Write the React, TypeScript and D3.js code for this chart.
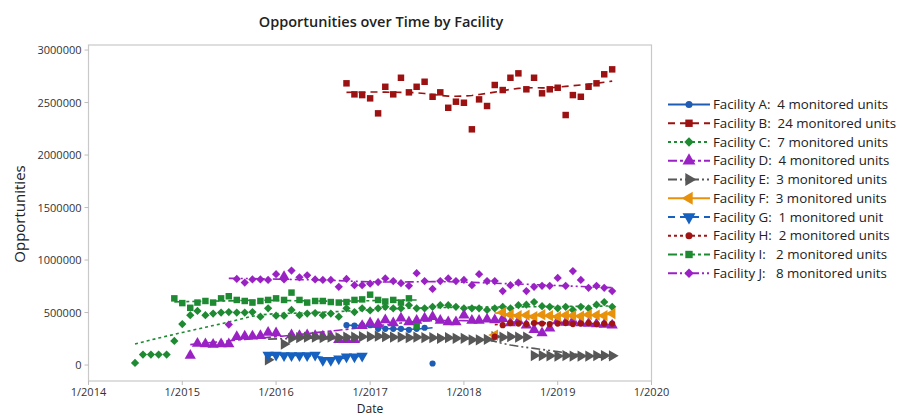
import React, { useEffect, useRef } from "react";
import * as d3 from "d3";

// monthly values, each series starts at its own first month
const startA = "2016-10-01";
const valuesA = [380000, 375000, 380000, 380000, 345000, 345000, 345000, 345000, 335000, 345000, 355000, 15000];

const startB = "2016-10-01";
const valuesB = [
  2683000, 2578000, 2571000, 2540000, 2397000, 2650000, 2578000, 2736000, 2597000, 2650000, 2698000, 2555000,
  2597000, 2450000, 2508000, 2498000, 2245000, 2530000, 2467000, 2667000, 2619000, 2736000, 2778000, 2626000,
  2736000, 2588000, 2626000, 2641000, 2381000, 2571000, 2555000, 2650000, 2683000, 2769000, 2816000,
];

const startC = "2014-07-01";
const valuesC = [
  20000, 100000, 100000, 100000, 100000, 230000, 390000, 475000, 515000, 475000, 490000, 500000,
  505000, 500000, 500000, 505000, 460000, 540000, 470000, 470000, 525000, 475000, 490000, 495000,
  475000, 490000, 460000, 540000, 505000, 540000, 520000, 540000, 555000, 540000, 540000, 570000,
  540000, 540000, 555000, 570000, 570000, 555000, 540000, 540000, 540000, 525000, 540000, 555000,
  540000, 570000, 575000, 600000, 560000, 555000, 540000, 555000, 525000, 555000, 540000, 575000,
  600000, 555000,
];

const startD = "2015-02-01";
const valuesD = [
  90000, 205000, 200000, 195000, 200000, 200000, 270000, 275000, 275000, 280000, 310000, 305000,
  840000, 285000, 280000, 285000, 280000, 275000, 275000, 240000, 240000, 240000, 375000, 400000,
  390000, 430000, 400000, 445000, 410000, 425000, 445000, 460000, 425000, 410000, 410000, 475000,
  425000, 425000, 435000, 430000, 440000, 400000, 420000, 380000, 335000, 305000, 350000, 420000,
  405000, 420000, 400000, 395000, 390000, 385000, 380000,
];

const startE = "2015-12-01";
const valuesE: (number | null)[] = [
  50000, null, 200000, 255000, 260000, 265000, 265000, 260000, 265000, 260000, 265000, 265000,
  270000, 270000, 275000, 270000, 265000, 265000, 260000, 265000, 260000, 260000, 255000, 260000,
  255000, 255000, 240000, 240000, 245000, 270000, 265000, 270000, 265000, 265000,
  90000, 90000, 88000, 85000, 90000, 85000, 85000, 85000, 90000, 90000, 88000,
];

const startF = "2018-05-01";
const valuesF = [
  285000, 500000, 480000, 470000, 475000, 460000, 480000, 470000, 460000, 475000, 470000, 465000,
  480000, 475000, 470000, 490000,
];

const startG = "2015-12-01";
const valuesG = [95000, 95000, 90000, 90000, 90000, 90000, 95000, 45000, 45000, 60000, 80000, 80000, 85000];

const startH = "2018-05-01";
const valuesH = [
  270000, 380000, 400000, 395000, 390000, 400000, 395000, 390000, 395000, 400000, 390000, 395000,
  400000, 390000, 395000, 395000,
];

const startI = "2014-12-01";
const valuesI = [
  635000, 590000, 545000, 595000, 610000, 595000, 635000, 655000, 620000, 610000, 595000, 610000,
  620000, 635000, 620000, 690000, 620000, 595000, 610000, 610000, 600000, 595000, 600000, 620000,
  625000, 670000, 620000, 605000, 620000, 595000, 635000, 370000,
];

const startJ = "2015-07-01";
const valuesJ = [
  385000, 820000, 785000, 815000, 815000, 810000, 865000, 815000, 900000, 835000, 855000, 815000,
  810000, 810000, 745000, 820000, 760000, 760000, 775000, 790000, 825000, 800000, 780000, 755000,
  875000, 800000, 725000, 800000, 825000, 800000, 810000, 760000, 865000, 800000, 800000, 705000,
  760000, 785000, 705000, 745000, 755000, 755000, 830000, 755000, 895000, 810000, 735000, 755000,
  735000, 705000,
];

const legendLabels = [
  "Facility A:  4 monitored units",
  "Facility B:  24 monitored units",
  "Facility C:  7 monitored units",
  "Facility D:  4 monitored units",
  "Facility E:  3 monitored units",
  "Facility F:  3 monitored units",
  "Facility G:  1 monitored unit",
  "Facility H:  2 monitored units",
  "Facility I:   2 monitored units",
  "Facility J:   8 monitored units",
];

const yTicks = [0, 500000, 1000000, 1500000, 2000000, 2500000, 3000000];
const xTickYears = [2014, 2015, 2016, 2017, 2018, 2019, 2020];

// Cleveland lowess, f = 0.5, 2 robustness steps (Minitab default)
function lowess(xs: number[], ys: number[], f = 0.5, iters = 2): number[] {
  const n = xs.length;
  const r = Math.max(2, Math.min(n, Math.ceil(f * n)));
  const fit = new Array(n).fill(0);
  let rw = new Array(n).fill(1);
  for (let it = 0; it <= iters; it++) {
    for (let i = 0; i < n; i++) {
      const dists = xs.map((x) => Math.abs(x - xs[i]));
      const h = ([...dists].sort((a, b) => a - b)[r - 1] || 1) * 1.001;
      let sw = 0, sx = 0, sy = 0, sxx = 0, sxy = 0;
      for (let j = 0; j < n; j++) {
        const u = dists[j] / h;
        let w = u < 1 ? Math.pow(1 - u * u * u, 3) : 0;
        w *= rw[j];
        sw += w; sx += w * xs[j]; sy += w * ys[j];
        sxx += w * xs[j] * xs[j]; sxy += w * xs[j] * ys[j];
      }
      if (sw <= 0) { fit[i] = ys[i]; continue; }
      const mx = sx / sw, my = sy / sw;
      const vx = sxx / sw - mx * mx;
      const b = vx > 1e-9 ? (sxy / sw - mx * my) / vx : 0;
      fit[i] = my + b * (xs[i] - mx);
    }
    if (it === iters) break;
    const res = ys.map((y, i) => y - fit[i]);
    const s = d3.median(res.map(Math.abs)) || 0;
    if (s === 0) break;
    rw = res.map((e) => {
      const u = e / (6 * s);
      return Math.abs(u) < 1 ? (1 - u * u) ** 2 : 0;
    });
  }
  return fit;
}

const App = () => {
  const svgRef = useRef<SVGSVGElement>(null);

  useEffect(() => {
    const svg = d3.select(svgRef.current);
    svg.selectAll("*").remove();

    const plot = { left: 88.5, right: 651.5, top: 45, bottom: 381 };
    const font = "'Open Sans', 'Noto Sans', sans-serif";

    const x = d3.scaleUtc()
      .domain([new Date(Date.UTC(2014, 0, 1)), new Date(Date.UTC(2020, 0, 1))])
      .range([plot.left, plot.right]);
    const y = d3.scaleLinear().domain([-152000, 3048000]).range([plot.bottom, plot.top]);

    const tri = d3.symbolTriangle;
    const series = [
      { start: startA, values: valuesA, color: "#1f5cb4", shape: d3.symbolCircle, size: 30, rot: 0, dash: "none" },
      { start: startB, values: valuesB, color: "#9c1111", shape: d3.symbolSquare, size: 42, rot: 0, dash: "7,5" },
      { start: startC, values: valuesC, color: "#1e8a32", shape: d3.symbolSquare, size: 34, rot: 45, dash: "3,3" },
      { start: startD, values: valuesD, color: "#9a22c4", shape: tri, size: 55, rot: 0, dash: "9,3,3,3" },
      { start: startE, values: valuesE, color: "#575757", shape: tri, size: 55, rot: 90, dash: "9,3,2,3,2,3" },
      { start: startF, values: valuesF, color: "#e8920c", shape: tri, size: 55, rot: -90, dash: "none" },
      { start: startG, values: valuesG, color: "#1660c0", shape: tri, size: 55, rot: 180, dash: "7,5" },
      { start: startH, values: valuesH, color: "#a01414", shape: d3.symbolCircle, size: 30, rot: 0, dash: "3,3" },
      { start: startI, values: valuesI, color: "#1e8a32", shape: d3.symbolSquare, size: 42, rot: 0, dash: "9,3,3,3" },
      { start: startJ, values: valuesJ, color: "#9a22c4", shape: d3.symbolSquare, size: 34, rot: 45, dash: "9,3,2,3,2,3" },
    ].map((s) => {
      const t0 = new Date(s.start + "T00:00:00Z");
      const pts = s.values
        .map((v, i) => ({ date: d3.utcMonth.offset(t0, i), value: v }))
        .filter((p) => p.value !== null) as { date: Date; value: number }[];
      return { ...s, pts };
    });

    // frame
    svg.append("rect")
      .attr("x", plot.left).attr("y", plot.top)
      .attr("width", plot.right - plot.left).attr("height", plot.bottom - plot.top)
      .attr("fill", "white").attr("stroke", "#c9c9c9").attr("stroke-width", 1.2);

    // y axis
    const yAxis = svg.append("g");
    yAxis.selectAll("line").data(yTicks).enter().append("line")
      .attr("x1", plot.left - 4).attr("x2", plot.left)
      .attr("y1", (d) => y(d)).attr("y2", (d) => y(d))
      .attr("stroke", "#bdbdbd");
    yAxis.selectAll("text").data(yTicks).enter().append("text")
      .attr("x", plot.left - 7).attr("y", (d) => y(d) + 4)
      .attr("text-anchor", "end")
      .style("font-family", font).style("font-size", "11px").attr("fill", "#333")
      .text((d) => d3.format("d")(d));

    // x axis
    const xAxis = svg.append("g");
    const xDates = xTickYears.map((yr) => new Date(Date.UTC(yr, 0, 1)));
    xAxis.selectAll("line").data(xDates).enter().append("line")
      .attr("x1", (d) => x(d)).attr("x2", (d) => x(d))
      .attr("y1", plot.bottom).attr("y2", plot.bottom + 4)
      .attr("stroke", "#bdbdbd");
    xAxis.selectAll("text").data(xDates).enter().append("text")
      .attr("x", (d) => x(d)).attr("y", plot.bottom + 15)
      .attr("text-anchor", "middle")
      .style("font-family", font).style("font-size", "11px").attr("fill", "#333")
      .text((d) => d3.utcFormat("%-m/%Y")(d));

    // titles
    svg.append("text")
      .attr("x", 381).attr("y", 27).attr("text-anchor", "middle")
      .style("font-family", font).style("font-size", "14.5px").style("font-weight", 600).attr("fill", "#222")
      .text("Opportunities over Time by Facility");
    svg.append("text")
      .attr("transform", "translate(25,214) rotate(-90)").attr("text-anchor", "middle")
      .style("font-family", font).style("font-size", "15px").attr("fill", "#222")
      .text("Opportunities");
    svg.append("text")
      .attr("x", 370).attr("y", 412.5).attr("text-anchor", "middle")
      .style("font-family", font).style("font-size", "12px").attr("fill", "#222")
      .text("Date");

    // lowess smoothers
    const line = d3.line<{ date: Date; value: number }>()
      .x((d) => x(d.date)).y((d) => y(d.value));
    series.forEach((s) => {
      const xs = s.pts.map((p) => p.date.getTime() / 86400000);
      const fit = lowess(xs, s.pts.map((p) => p.value));
      const fitted = s.pts.map((p, i) => ({ date: p.date, value: fit[i] }));
      svg.append("path")
        .datum(fitted)
        .attr("fill", "none")
        .attr("stroke", s.color)
        .attr("stroke-width", 1.6)
        .attr("stroke-dasharray", s.dash)
        .attr("d", line);
    });

    // markers
    series.forEach((s) => {
      const sym = d3.symbol(s.shape, s.size);
      svg.append("g").selectAll("path").data(s.pts).enter().append("path")
        .attr("d", sym)
        .attr("transform", (d) => `translate(${x(d.date)},${y(d.value)}) rotate(${s.rot})`)
        .attr("fill", s.color);
    });

    // legend
    const legend = svg.append("g");
    series.forEach((s, i) => {
      const ly = 104.5 + i * 18.75;
      legend.append("line")
        .attr("x1", 668).attr("x2", 710).attr("y1", ly).attr("y2", ly)
        .attr("stroke", s.color).attr("stroke-width", 2)
        .attr("stroke-dasharray", s.dash);
      legend.append("path")
        .attr("d", d3.symbol(s.shape, s.size * 1.3))
        .attr("transform", `translate(689,${ly}) rotate(${s.rot})`)
        .attr("fill", s.color);
      legend.append("text")
        .attr("x", 713).attr("y", ly + 4.5)
        .attr("xml:space", "preserve")
        .style("white-space", "pre")
        .style("font-family", font).style("font-size", "13.3px").attr("fill", "#222")
        .text(legendLabels[i]);
    });
  }, []);

  return (
    <div style={{ position: "fixed", left: 0, top: 0 }}>
      <svg ref={svgRef} width={903} height={417} style={{ display: "block", background: "white" }} />
    </div>
  );
};

export default App;
